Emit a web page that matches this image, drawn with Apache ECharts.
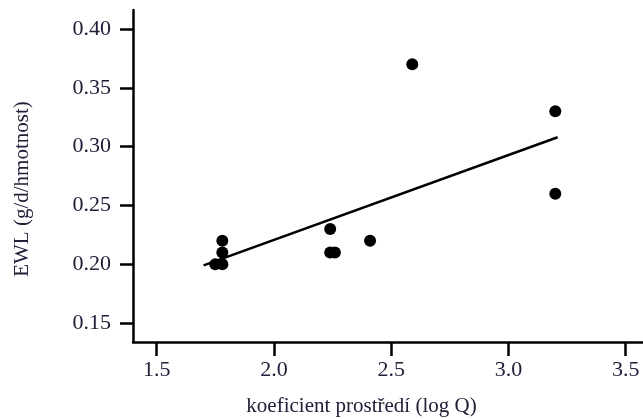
<!DOCTYPE html>
<html>
<head>
<meta charset="utf-8">
<script src="https://cdn.jsdelivr.net/npm/echarts@6/dist/echarts.min.js"></script>
<style>
	html, body { margin: 0; padding: 0; background: #fff; }
	#chart { width: 643px; height: 419px; }
</style>
</head>
<body>
<div id="chart"></div>
<script>
// points
var pointsX = [1.75, 1.78, 1.78, 1.78, 2.24, 2.24, 2.26, 2.41, 2.59, 3.20, 3.20];
var pointsY = [0.20, 0.20, 0.21, 0.22, 0.23, 0.21, 0.21, 0.22, 0.37, 0.33, 0.26];
// regression line ends
var fitX = [1.70, 3.21];
var fitY = [0.199, 0.308];
var xTicks = [1.5, 2.0, 2.5, 3.0, 3.5];
var yTicks = [0.15, 0.20, 0.25, 0.30, 0.35, 0.40];

var textColor = '#20203a';
var font = 'Liberation Serif';

var chart = echarts.init(document.getElementById('chart'));
var option = {
	animation: false,
	grid: { left: 133, top: 10, right: 0, bottom: 77, containLabel: false, outerBoundsMode: 'none' },
	xAxis: {
		type: 'value',
		min: 1.399,
		max: 3.574,
		name: 'koeficient prostředí (log Q)',
		nameLocation: 'middle',
		nameGap: 54,
		nameTextStyle: { color: textColor, fontFamily: font, fontSize: 21, padding: [0, 53, 0, 0] },
		axisLine: { lineStyle: { color: '#000', width: 2.5 } },
		axisTick: { length: 14, customValues: xTicks, lineStyle: { color: '#000', width: 2.5 } },
		axisLabel: {
			customValues: xTicks,
			margin: 17,
			color: textColor,
			fontFamily: font,
			fontSize: 22,
			formatter: function (v) { return v.toFixed(1); }
		},
		splitLine: { show: false }
	},
	yAxis: {
		type: 'value',
		min: 0.1338,
		max: 0.4162,
		name: 'EWL (g/d/hmotnost)',
		nameLocation: 'middle',
		nameGap: 100,
		nameTextStyle: { color: textColor, fontFamily: font, fontSize: 21, padding: [0, 26, 0, 0] },
		axisLine: { lineStyle: { color: '#000', width: 2.5 } },
		axisTick: { length: 13, customValues: yTicks, lineStyle: { color: '#000', width: 2.5 } },
		axisLabel: {
			customValues: yTicks,
			margin: 22,
			color: textColor,
			fontFamily: font,
			fontSize: 22,
			formatter: function (v) { return v.toFixed(2); }
		},
		splitLine: { show: false }
	},
	series: [
		{
			type: 'line',
			data: fitX.map(function (x, i) { return [x, fitY[i]]; }),
			showSymbol: false,
			lineStyle: { color: '#000', width: 2.5 },
			z: 2
		},
		{
			type: 'scatter',
			data: pointsX.map(function (x, i) { return [x, pointsY[i]]; }),
			symbolSize: 12,
			itemStyle: { color: '#000', opacity: 1 },
			z: 3
		}
	]
};
chart.setOption(option);
</script>
</body>
</html>
